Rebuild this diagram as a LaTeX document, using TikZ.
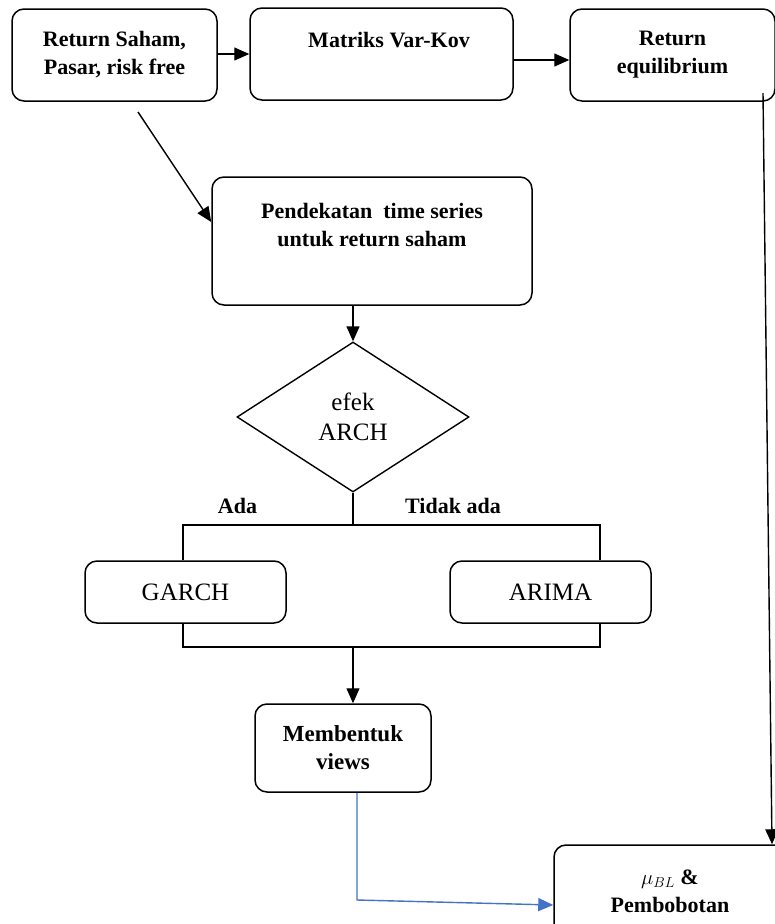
\documentclass[tikz,border=0pt]{standalone}
\usepackage{fontspec}
\setmainfont{Liberation Serif}
\usepackage{amsmath}
\usepackage{tikz}
\usetikzlibrary{arrows.meta,shapes.geometric,positioning}
\definecolor{viewblue}{RGB}{68,114,196}

\begin{document}
\begin{tikzpicture}[x=1pt,y=-1pt,
	box/.style={draw, rounded corners=12pt, line width=1.5pt, inner sep=0pt, align=center, font=\bfseries\fontsize{22}{28}\selectfont},
	choice/.style={draw, diamond, line width=1.4pt, inner sep=0pt, minimum width=232pt, minimum height=150pt, align=center, font=\fontsize{25}{30}\selectfont},
	txt/.style={align=center, font=\bfseries\fontsize{22}{28}\selectfont},
	conn/.style={line width=1.4pt},
	arr/.style={line width=1.4pt, -{Triangle[length=15pt,width=13pt]}},
	bluearr/.style={line width=1.4pt, draw=viewblue, -{Triangle[length=15pt,width=13pt]}}]
	\useasboundingbox (0,0) rectangle (775,924);

	% top row
	\node[box, minimum width=205pt, minimum height=92pt] (rsp) at (114.5,55) {Return Saham,\\Pasar, risk free};
	\node[box, minimum width=263pt, minimum height=92pt] (mvk) at (381.5,54) {};
	\node[txt, anchor=base] (mvktxt) at (389,47) {Matriks Var-Kov};
	\node[box, minimum width=205pt, minimum height=92pt] (req) at (672.5,55) {Return\\equilibrium};

	\node[box, minimum width=320pt, minimum height=128pt] (pts) at (372,241) {};
	\node[txt] (ptstxt) at (372,225) {Pendekatan\ \ time series\\untuk return saham};
	\node[choice] (arch) at (353,417) {efek\\ARCH};

	% model choice
	\node[txt, anchor=base] (ada) at (237.5,513) {Ada};
	\node[txt, anchor=base] (tdk) at (453,513) {Tidak ada};
	\node[box, minimum width=201pt, minimum height=62pt, font=\fontsize{25}{30}\selectfont] (garch) at (185.5,592) {GARCH};
	\node[box, minimum width=201pt, minimum height=62pt, font=\fontsize{25}{30}\selectfont] (arima) at (550.5,592) {ARIMA};

	\node[box, minimum width=176pt, minimum height=88pt, font=\bfseries\fontsize{23}{28}\selectfont] (mem) at (343,748) {Membentuk\\views};
	\node[box, minimum width=232pt, minimum height=92pt] (pbt) at (670,891) {$\mu_{BL}$ \&\\Pembobotan};

	\coordinate (dstart) at (138,112);
	\coordinate (lb) at (183,525);
	\coordinate (rb) at (600,525);
	\coordinate (split) at (353,525);
	\coordinate (lbb) at (183,647);
	\coordinate (rbb) at (600,647);
	\coordinate (join) at (353,647);
	\coordinate (vbend) at (357,900);
	\coordinate (rtop) at (763,93);

	\draw[arr] ([yshift=1pt]rsp.east) -- ([yshift=1pt]rsp.east -| mvk.west);
	\draw[arr] ([yshift=-6pt]mvk.east) -- ([yshift=-6pt]mvk.east -| req.west);
	\draw[arr] (dstart) -- ([yshift=19pt]pts.west);
	\draw[arr] (pts.south -| arch.north) -- (arch.north);
	\draw[conn] (arch.south) -- (split);
	\draw[conn] (garch.north -| lb) -- (lb) -- (rb) -- (arima.north -| rb);
	\draw[conn] (garch.south -| lbb) -- (lbb) -- (rbb) -- (arima.south -| rbb);
	\draw[arr] (join) -- (mem.north -| join);
	\draw[bluearr] (mem.south -| vbend) -- (vbend) -- ([yshift=-14pt]pbt.west);
	\draw[arr] (rtop) -- ([xshift=102pt]pbt.north);
\end{tikzpicture}
\end{document}
